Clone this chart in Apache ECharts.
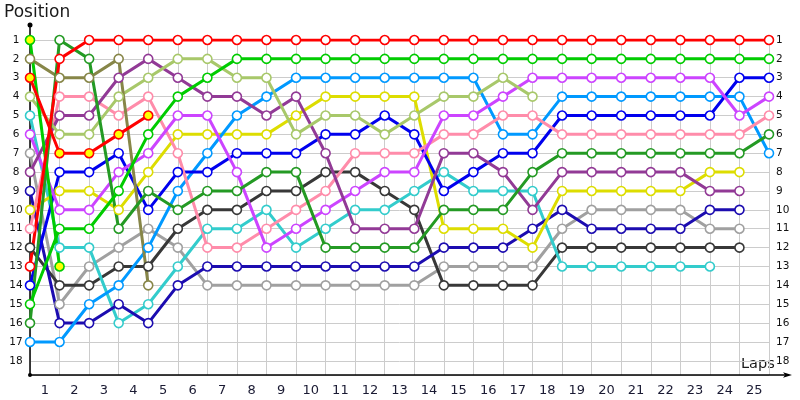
<!DOCTYPE html>
<html>
<head>
<meta charset="utf-8">
<script src="https://cdn.jsdelivr.net/npm/echarts@6/dist/echarts.min.js"></script>
<style>
html,body{margin:0;padding:0;background:#fff;}
#chart{width:800px;height:400px;}
</style>
</head>
<body>
<div id="chart"></div>
<script>
// Lap labels (x categories between laps) and position labels
const lapLabels = ['1','2','3','4','5','6','7','8','9','10','11','12','13','14','15','16','17','18','19','20','21','22','23','24','25'];
const positionTicks = [1,2,3,4,5,6,7,8,9,10,11,12,13,14,15,16,17,18];

// Positions per lap (index 0 = start, then lap 1, 2, ...)
const redLeader   = [13,2,1,1,1,1,1,1,1,1,1,1,1,1,1,1,1,1,1,1,1,1,1,1,1,1];
const redRetired  = [3,7,7,6,5];
const greenMain   = [15,11,11,9,6,4,3,2,2,2,2,2,2,2,2,2,2,2,2,2,2,2,2,2,2,2];
const greenOut    = [1,13];
const darkGreen   = [16,1,2,11,9,10,9,9,8,8,12,12,12,12,10,10,10,8,7,7,7,7,7,7,7,6];
const olive       = [2,3,3,2,14];
const lightGreen  = [4,6,6,4,3,2,2,3,3,6,5,5,6,5,4,4,3,4];
const purple      = [8,5,5,3,2,3,4,4,5,4,7,11,11,11,7,7,8,10,8,8,8,8,8,9,9];
const violet      = [6,10,10,8,7,5,5,8,12,11,10,9,8,8,5,5,4,3,3,3,3,3,3,3,5,4];
const pink        = [11,4,4,5,4,7,12,12,11,10,9,7,7,7,6,6,5,5,6,6,6,6,6,6,6,5];
const lightBlue   = [17,17,15,14,12,9,7,5,4,3,3,3,3,3,3,3,6,6,4,4,4,4,4,4,4,7];
const blue        = [14,8,8,7,10,8,8,7,7,7,6,6,5,6,9,8,7,7,5,5,5,5,5,5,3,3];
const navy        = [9,16,16,15,16,14,13,13,13,13,13,13,13,13,12,12,12,11,10,11,11,11,11,10,10];
const yellow      = [10,9,9,10,8,6,6,6,6,5,4,4,4,4,11,11,11,12,9,9,9,9,9,8,8];
const cyan        = [5,12,12,16,15,13,11,11,10,12,11,10,10,9,8,9,9,9,13,13,13,13,13,13];
const darkGray    = [12,14,14,13,13,11,10,10,9,9,8,8,9,10,14,14,14,14,12,12,12,12,12,12,12];
const lightGray   = [7,15,13,12,11,12,14,14,14,14,14,14,14,14,13,13,13,13,11,10,10,10,10,11,11];

const drivers = [
  {name:'lightGray', data:lightGray, color:'#a0a0a0'},
  {name:'darkGray', data:darkGray, color:'#383838'},
  {name:'cyan', data:cyan, color:'#33cccc'},
  {name:'navy', data:navy, color:'#1c0cb0'},
  {name:'yellow', data:yellow, color:'#dddd00'},
  {name:'lightBlue', data:lightBlue, color:'#0099ff'},
  {name:'blue', data:blue, color:'#0000ee'},
  {name:'pink', data:pink, color:'#ff8caa'},
  {name:'violet', data:violet, color:'#cc44ff'},
  {name:'purple', data:purple, color:'#923a96'},
  {name:'lightGreen', data:lightGreen, color:'#a8c86a'},
  {name:'olive', data:olive, color:'#878648'},
  {name:'darkGreen', data:darkGreen, color:'#249a24'},
  {name:'greenMain', data:greenMain, color:'#00cc00'},
  {name:'greenOut', data:greenOut, color:'#00cc00', fill:'#ffff00'},
  {name:'redRetired', data:redRetired, color:'#ff0000', fill:'#ffff00'},
  {name:'redLeader', data:redLeader, color:'#ff0000'}
];

const chart = echarts.init(document.getElementById('chart'), null, {renderer:'canvas'});
const FONT = 'DejaVu Sans';

const series = drivers.map(d => ({
  name: d.name,
  type: 'line',
  xAxisIndex: 0,
  yAxisIndex: 0,
  data: d.data.map((p, i) => [i, p]),
  symbol: 'circle',
  symbolSize: 9,
  showAllSymbol: true,
  lineStyle: {color: d.color, width: 3},
  itemStyle: {color: d.fill || '#ffffff', borderColor: d.color, borderWidth: 1.6},
  emphasis: {disabled: true},
  animation: false
}));

const option = {
  animation: false,
  backgroundColor: '#ffffff',
  grid: [
    {left: 30, right: 31, top: 40, bottom: 25, containLabel: false},
    {left: 30, right: 12, top: 25, bottom: 25, containLabel: false}
  ],
  xAxis: [
    {
      type: 'value', gridIndex: 0, min: 0, max: 25, interval: 1,
      axisLine: {show: false}, axisTick: {show: false}, axisLabel: {show: false},
      splitLine: {show: true, lineStyle: {color: '#cccccc', width: 1}}
    },
    {
      type: 'category', gridIndex: 0, data: lapLabels, boundaryGap: true, position: 'bottom',
      axisLine: {show: false}, axisTick: {show: false}, splitLine: {show: false},
      axisLabel: {show: true, margin: 9, color: '#1a1a33', fontFamily: FONT, fontSize: 13}
    },
    {
      type: 'value', gridIndex: 1, min: 0, max: 1,
      axisLine: {show: true, symbol: ['circle', 'arrow'], symbolSize: [4, 9], symbolOffset: [0, 4],
                 lineStyle: {color: '#000000', width: 1.5}},
      axisTick: {show: false}, axisLabel: {show: false}, splitLine: {show: false}
    }
  ],
  yAxis: [
    {
      type: 'value', gridIndex: 0, inverse: true, min: 1, max: 18.75, interval: 1,
      axisLine: {show: false}, axisTick: {show: false},
      axisLabel: {show: true, showMaxLabel: false, align: 'center', margin: 14, color: '#111111', fontFamily: FONT, fontSize: 10.5},
      splitLine: {show: true, lineStyle: {color: '#cccccc', width: 1}}
    },
    {
      type: 'value', gridIndex: 0, inverse: true, min: 1, max: 18.75, interval: 1, position: 'right',
      axisLine: {show: false}, axisTick: {show: false},
      axisLabel: {show: true, showMaxLabel: false, align: 'left', margin: 7, color: '#111111', fontFamily: FONT, fontSize: 10.5},
      splitLine: {show: false}
    },
    {
      type: 'value', gridIndex: 1, min: 0, max: 1,
      axisLine: {show: true, symbol: ['none', 'circle'], symbolSize: [5, 5],
                 lineStyle: {color: '#000000', width: 1.5}},
      axisTick: {show: false}, axisLabel: {show: false}, splitLine: {show: false}
    }
  ],
  graphic: [
    {type: 'text', left: 4, top: 4, style: {text: 'Position', fontFamily: FONT, fontSize: 17, fill: '#1a1a1a'}},
    {type: 'text', left: 741, top: 357, style: {text: 'Laps', fontFamily: FONT, fontSize: 14.5, fill: '#1a1a1a'}}
  ],
  series: series
};
chart.setOption(option);
</script>
</body>
</html>
